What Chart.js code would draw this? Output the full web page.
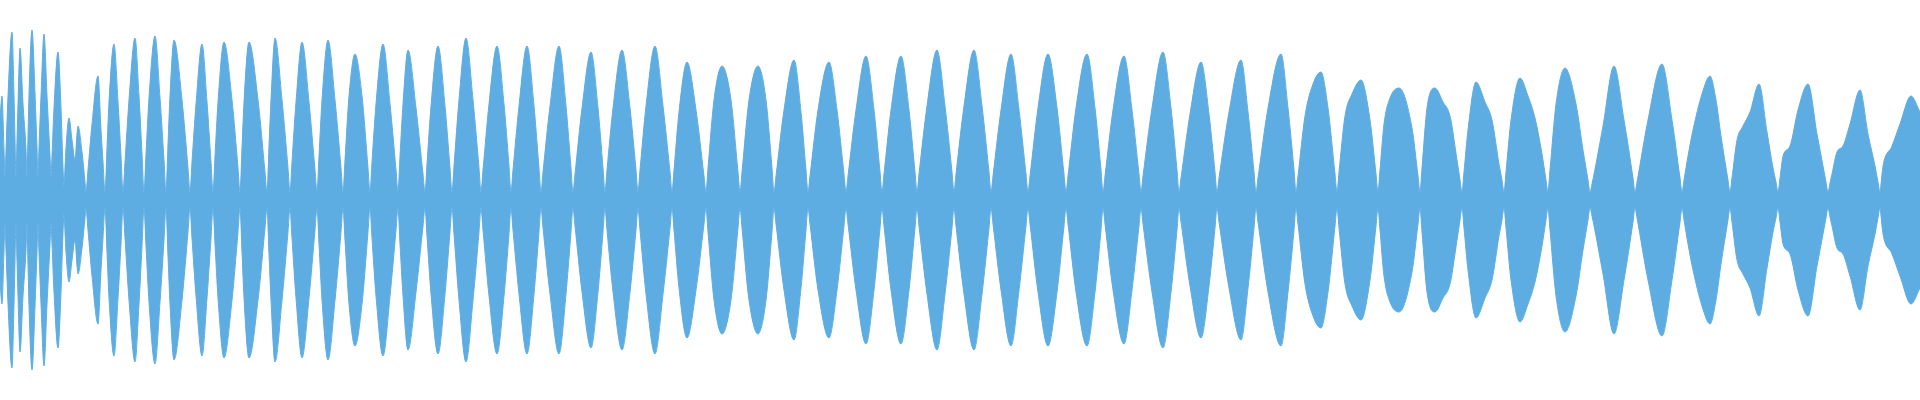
<!DOCTYPE html>
<html>
<head>
<meta charset="utf-8">
<script src="https://cdn.jsdelivr.net/npm/chart.js@4"></script>
<style>
  html, body { margin: 0; padding: 0; background: #ffffff; }
  #wrap { width: 1920px; height: 400px; position: relative; }
</style>
</head>
<body>
<div id="wrap"><canvas id="c"></canvas></div>
<script>
// sample positions along the time axis (arbitrary units, 0..1920)
const times = [
  0,2,4,5,6,8,12,14,15,16,17,18,20,23,26,27,28,29,32,35,37,38,39,41,44,47,50,51,52,54,58,61,63,64,65,66,69,72,75,77,78,82,85,86,88,92,98,101,103,
  105,107,109,114,118,121,
  123,125,129,135,139,142,
  144,146,149,155,160,164,
  166,168,170,174,182,188,
  190,192,196,202,207,211,
  213,215,218,224,232,238,
  240,242,244,249,258,265,
  267,269,271,275,282,288,
  290,292,296,302,309,315,
  317,319,322,328,335,341,
  343,345,349,355,362,368,
  370,372,376,383,390,396,
  398,400,403,408,416,423,
  425,427,431,438,445,450,
  452,454,459,466,473,479,
  481,483,489,497,504,509,
  511,513,519,527,534,539,
  541,543,550,559,566,571,
  573,575,582,591,598,603,
  605,607,613,622,630,636,
  638,640,646,655,663,670,
  672,674,679,687,696,704,
  706,708,714,722,731,738,
  740,742,749,758,766,772,
  774,776,784,794,801,806,
  808,810,818,829,837,844,
  846,848,856,866,874,880,
  882,884,891,901,909,915,
  917,919,927,937,945,952,
  954,956,964,974,982,989,
  991,993,1001,1011,1019,1026,
  1028,1030,1038,1048,1057,1064,
  1066,1068,1076,1087,1095,1101,
  1103,1105,1113,1124,1132,1139,
  1141,1143,1152,1163,1171,1177,
  1179,1181,1190,1201,1209,1215,
  1217,1219,1229,1241,1248,1254,
  1256,1258,1268,1281,1288,1294,
  1296,1298,1305,1313,1321,1328,1335,
  1337,1339,1345,1352,1361,1370,1376,
  1378,1380,1384,1390,1399,1412,1418,
  1420,1422,1427,1435,1443,1450,1457,1460,
  1462,1464,1468,1476,1485,1492,1499,1502,
  1504,1506,1511,1520,1528,1535,1542,1546,
  1548,1550,1556,1565,1576,1583,1588,
  1590,1592,1603,1614,1624,1633,
  1635,1637,1648,1662,1672,1680,
  1682,1684,1688,1693,1702,1710,1716,1721,1728,
  1730,1732,1737,1743,1750,1759,1767,1773,1776,
  1778,1780,1783,1790,1798,1808,1817,1823,1826,
  1828,1830,1832,1837,1843,1850,1860,1868,1875,1878,
  1880,1881,1883,1892,1900,1911,1920
];
// waveform envelope amplitude (normalised; drawn mirrored about zero)
const amplitude = [
  0.40,0.52,0.25,0.12,0.25,0.52,0.84,0.52,0.30,0.12,0.30,0.48,0.76,0.48,0.25,0.12,0.32,0.53,0.85,0.53,0.26,0.12,0.26,0.52,0.83,0.52,0.22,0.12,0.22,0.46,0.74,0.46,0.16,0.07,0.16,0.26,0.41,0.30,0.20,0.33,0.37,0.24,0.09,0.04,0.15,0.38,0.62,0.35,0.19,
  0.04,0.26,0.49,0.78,0.49,0.22,
  0.04,0.19,0.50,0.81,0.52,0.23,
  0.04,0.23,0.51,0.82,0.51,0.20,
  0.04,0.28,0.52,0.80,0.50,0.16,
  0.04,0.19,0.48,0.78,0.49,0.19,
  0.04,0.22,0.49,0.79,0.50,0.16,
  0.04,0.26,0.49,0.79,0.50,0.14,
  0.04,0.27,0.50,0.81,0.50,0.16,
  0.04,0.19,0.49,0.79,0.49,0.15,
  0.04,0.22,0.50,0.80,0.50,0.16,
  0.04,0.20,0.52,0.73,0.52,0.16,
  0.04,0.19,0.48,0.78,0.48,0.15,
  0.04,0.22,0.48,0.75,0.46,0.13,
  0.04,0.18,0.47,0.77,0.47,0.16,
  0.04,0.17,0.50,0.81,0.50,0.16,
  0.04,0.15,0.48,0.77,0.48,0.17,
  0.04,0.15,0.47,0.77,0.47,0.16,
  0.04,0.14,0.47,0.77,0.47,0.16,
  0.04,0.13,0.46,0.74,0.46,0.16,
  0.04,0.15,0.46,0.75,0.46,0.15,
  0.04,0.15,0.47,0.77,0.47,0.14,
  0.04,0.15,0.44,0.69,0.45,0.12,
  0.04,0.16,0.50,0.67,0.50,0.14,
  0.04,0.14,0.50,0.67,0.50,0.16,
  0.04,0.12,0.45,0.70,0.44,0.15,
  0.04,0.12,0.45,0.69,0.45,0.13,
  0.04,0.12,0.45,0.72,0.45,0.14,
  0.04,0.13,0.45,0.72,0.45,0.14,
  0.04,0.13,0.47,0.75,0.47,0.14,
  0.04,0.13,0.47,0.75,0.47,0.14,
  0.04,0.12,0.45,0.73,0.45,0.13,
  0.04,0.12,0.46,0.73,0.46,0.13,
  0.04,0.12,0.46,0.73,0.46,0.15,
  0.04,0.12,0.45,0.72,0.45,0.13,
  0.04,0.12,0.46,0.74,0.46,0.15,
  0.04,0.11,0.43,0.69,0.43,0.14,
  0.04,0.11,0.44,0.70,0.44,0.14,
  0.04,0.11,0.46,0.73,0.46,0.15,
  0.04,0.12,0.42,0.58,0.64,0.46,0.13,
  0.04,0.14,0.42,0.53,0.60,0.40,0.13,
  0.04,0.15,0.38,0.51,0.56,0.36,0.12,
  0.04,0.16,0.46,0.56,0.49,0.42,0.20,0.10,
  0.04,0.14,0.35,0.59,0.49,0.40,0.18,0.10,
  0.04,0.14,0.40,0.61,0.52,0.41,0.23,0.10,
  0.04,0.15,0.48,0.66,0.48,0.25,0.10,
  0.04,0.08,0.37,0.67,0.40,0.11,
  0.04,0.09,0.40,0.68,0.40,0.11,
  0.04,0.10,0.22,0.35,0.53,0.62,0.50,0.32,0.10,
  0.04,0.11,0.30,0.37,0.44,0.58,0.34,0.16,0.09,
  0.04,0.11,0.22,0.27,0.45,0.58,0.33,0.17,0.09,
  0.04,0.085,0.13,0.24,0.27,0.38,0.55,0.33,0.17,0.09,
  0.04,0.08,0.17,0.27,0.38,0.52,0.44
];

const fillColour = '#5DADE2';
const upper = times.map((t, i) => ({ x: t, y: amplitude[i] }));
const lower = times.map((t, i) => ({ x: t, y: -amplitude[i] }));

new Chart(document.getElementById('c'), {
  type: 'line',
  data: {
    datasets: [
      { data: upper, fill: 'origin', backgroundColor: fillColour, borderColor: fillColour, borderWidth: 1,
        pointRadius: 0, cubicInterpolationMode: 'monotone' },
      { data: lower, fill: 'origin', backgroundColor: fillColour, borderColor: fillColour, borderWidth: 1,
        pointRadius: 0, cubicInterpolationMode: 'monotone' }
    ]
  },
  options: {
    responsive: true,
    maintainAspectRatio: false,
    animation: false,
    layout: { padding: 0 },
    plugins: { legend: { display: false }, tooltip: { enabled: false } },
    scales: {
      x: { type: 'linear', min: 0, max: 1920, display: false },
      y: { min: -1, max: 1, display: false }
    }
  }
});
</script>
</body>
</html>
